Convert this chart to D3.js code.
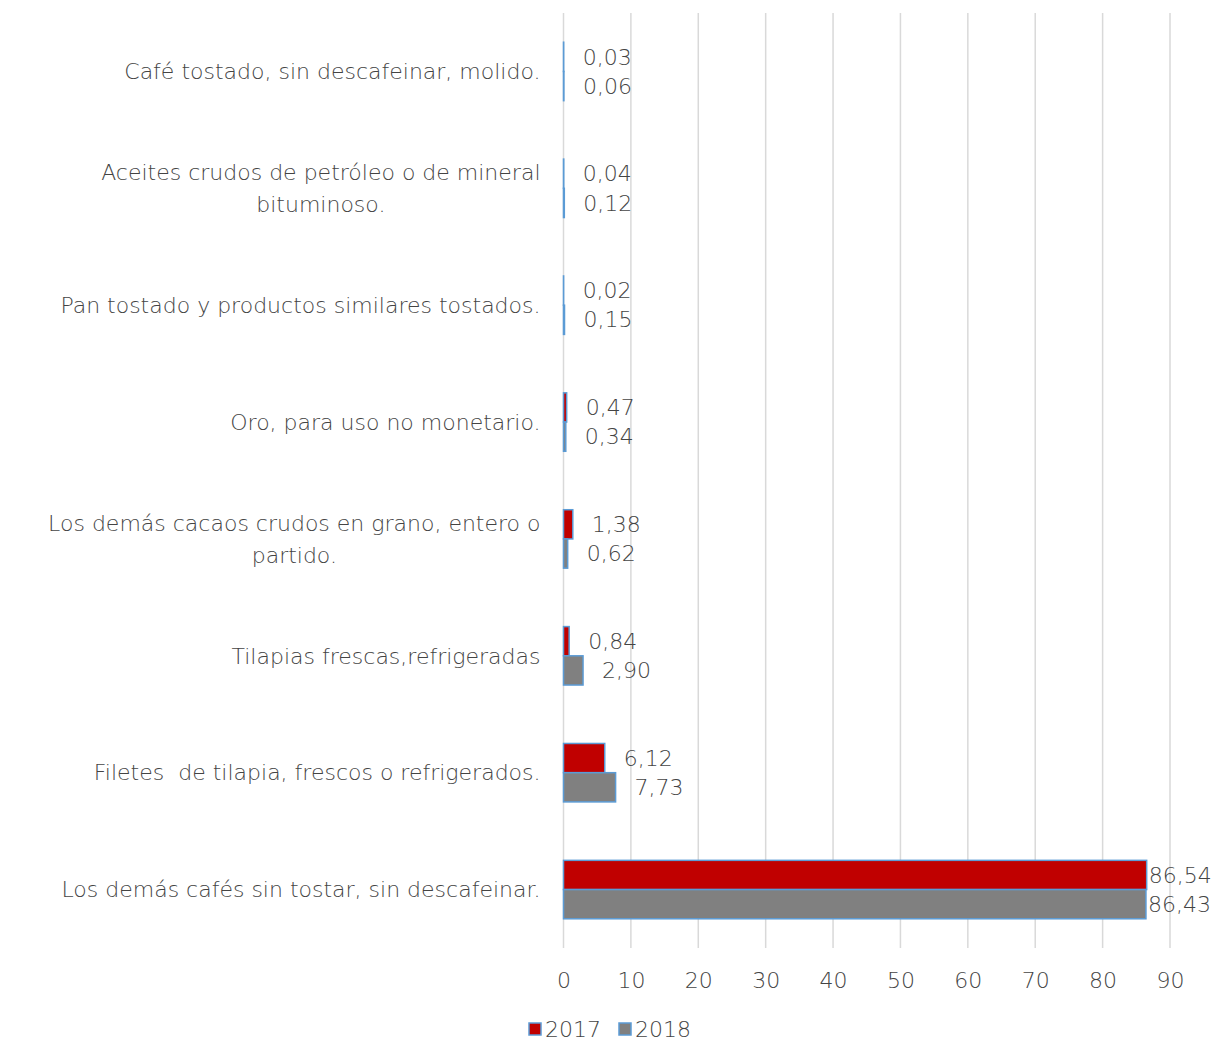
<!DOCTYPE html>
<html>
<head>
<meta charset="utf-8">
<script src="https://cdn.jsdelivr.net/npm/d3@7"></script>
<style>
  body { margin: 0; background: #fff; }
  text { font-family: "DejaVu Sans", sans-serif; font-weight: 200; fill: #444444; white-space: pre; }
</style>
</head>
<body>
<div id="chart"></div>
<script>
// Categories (top to bottom) and values per year
const categories = [
  "Café tostado, sin descafeinar, molido.",
  "Aceites crudos de petróleo o de mineral bituminoso.",
  "Pan tostado y productos similares tostados.",
  "Oro, para uso no monetario.",
  "Los demás cacaos crudos en grano, entero o partido.",
  "Tilapias frescas,refrigeradas ",
  "Filetes  de tilapia, frescos o refrigerados.",
  "Los demás cafés sin tostar, sin descafeinar."
];
const values2017 = [0.03, 0.04, 0.02, 0.47, 1.38, 0.84, 6.12, 86.54];
const values2018 = [0.06, 0.12, 0.15, 0.34, 0.62, 2.90, 7.73, 86.43];
const series = ["2017", "2018"];
const seriesColors = ["#C00000", "#808080"];
const xTicks = [0, 10, 20, 30, 40, 50, 60, 70, 80, 90];

const W = 1212, H = 1042;
const plotLeft = 563.5, plotRight = 1170, plotTop = 13, plotBottom = 948;
const fontSize = 22;

const svg = d3.select("#chart").append("svg")
  .attr("width", W)
  .attr("height", H);

const x = d3.scaleLinear().domain([0, 90]).range([plotLeft, plotRight]);
const y = d3.scaleBand().domain(categories).range([plotTop, plotBottom]).paddingInner(0).paddingOuter(0);
const inner = d3.scaleBand().domain(series).range([0, y.bandwidth()]).paddingInner(0).paddingOuter(1);

const fmt = v => d3.format(".2f")(v).replace(".", ",");

// gridlines
svg.append("g")
  .selectAll("line")
  .data(xTicks)
  .enter().append("line")
  .attr("x1", d => x(d)).attr("x2", d => x(d))
  .attr("y1", plotTop).attr("y2", plotBottom)
  .attr("stroke", "#D9D9D9")
  .attr("stroke-width", 1.5);

// x tick labels
const xAxis = d3.axisBottom(x).tickValues(xTicks).tickSize(0).tickPadding(0);
const gx = svg.append("g")
  .attr("transform", `translate(0, ${plotBottom + 24})`)
  .call(xAxis);
gx.select(".domain").remove();
gx.selectAll("text")
  .style("font-size", fontSize + "px")
  .style("font-family", "'DejaVu Sans', sans-serif")
  .attr("fill", "#444444");

// bars
const data = [];
categories.forEach((c, i) => {
  data.push({ cat: c, s: "2017", v: values2017[i], color: seriesColors[0] });
  data.push({ cat: c, s: "2018", v: values2018[i], color: seriesColors[1] });
});

svg.append("g")
  .selectAll("rect")
  .data(data)
  .enter().append("rect")
  .attr("x", x(0))
  .attr("y", d => y(d.cat) + inner(d.s))
  .attr("width", d => x(d.v) - x(0))
  .attr("height", inner.bandwidth())
  .attr("fill", d => d.color)
  .attr("stroke", "#5B9BD5")
  .attr("stroke-width", 1.5);

// value labels
svg.append("g")
  .selectAll("text")
  .data(data)
  .enter().append("text")
  .attr("y", d => y(d.cat) + inner(d.s) + inner.bandwidth() / 2)
  .attr("dy", "0.35em")
  .style("font-size", fontSize + "px")
  .text(d => fmt(d.v))
  .each(function(d) {
    const w = this.getComputedTextLength();
    let px = x(d.v) + 19;
    if (px + w > W - 4) px = x(d.v) + 2;
    d3.select(this).attr("x", px);
  });

// category labels, wrapped
const maxW = 535;
svg.append("g")
  .selectAll("text")
  .data(categories)
  .enter().append("text")
  .attr("text-anchor", "middle")
  .style("font-size", fontSize + "px")
  .each(function(c) {
    const t = d3.select(this);
    const words = c.trim().split(" ");
    const lines = [];
    let line = "";
    words.forEach(w => {
      const test = line ? line + " " + w : w;
      t.text(test);
      if (this.getComputedTextLength() > maxW && line) {
        lines.push(line);
        line = w;
      } else {
        line = test;
      }
    });
    lines.push(line);
    t.text(null);
    const lh = 32;
    const cy = y(c) + y.bandwidth() / 2 - (lines.length - 1) * lh / 2;
    lines.forEach((l, k) => {
      t.append("tspan")
        .attr("x", 0)
        .attr("y", cy + k * lh)
        .attr("dy", "0.35em")
        .text(l);
    });
    const bw = this.getBBox().width;
    t.attr("transform", `translate(${plotLeft - 23 - bw / 2}, 0)`);
  });

// legend
const legend = svg.append("g").attr("transform", "translate(529, 1029)");
const lx = [0, 90];
series.forEach((s, i) => {
  const g = legend.append("g").attr("transform", `translate(${lx[i]}, 0)`);
  g.append("rect")
    .attr("x", 0).attr("y", -6)
    .attr("width", 12).attr("height", 12)
    .attr("fill", seriesColors[i])
    .attr("stroke", "#5B9BD5")
    .attr("stroke-width", 1.5);
  g.append("text")
    .attr("x", 16).attr("y", 0)
    .attr("dy", "0.35em")
    .style("font-size", fontSize + "px")
    .text(s);
});
</script>
</body>
</html>
